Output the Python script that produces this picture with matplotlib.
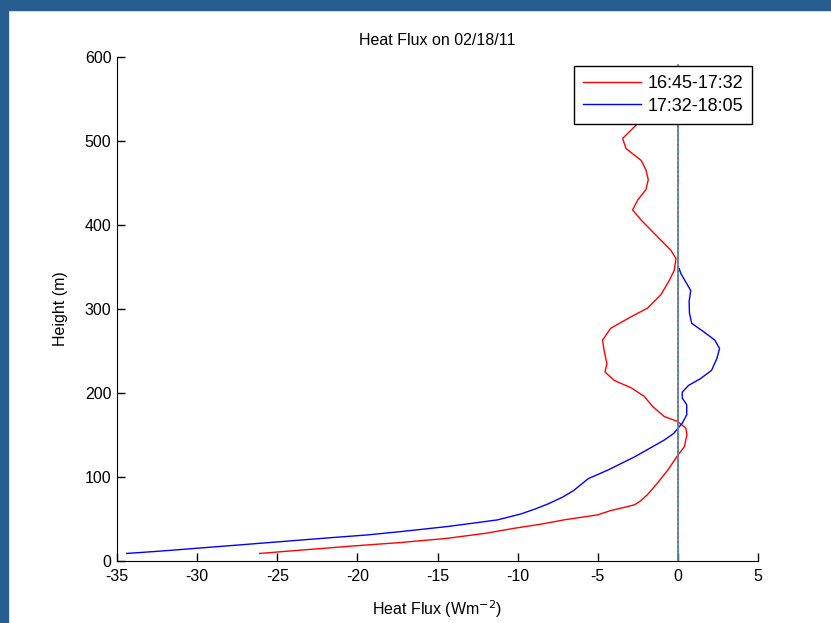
import matplotlib
matplotlib.use("Agg")
import matplotlib.pyplot as plt
from matplotlib.patches import Rectangle

plt.rcParams['font.family'] = ['Liberation Sans', 'DejaVu Sans']
plt.rcParams['axes.unicode_minus'] = False

# 16:45-17:32 profile: heat flux (W m^-2) vs height (m)
flux_early = [-26.1, -23.5, -20.2, -17.3, -14.4, -12.0, -10.2, -8.5, -7.1, -5.0,
              -4.2, -3.1, -2.7, -2.3, -1.9, -1.27, -0.64, 0.0, 0.4, 0.56,
              0.5, 0.0, -0.85, -1.58, -2.1, -2.9, -3.97, -4.55, -4.43, -4.6,
              -4.7, -4.2, -2.9, -1.9, -1.06, -0.54, -0.23, -0.12, -0.44, -1.27,
              -2.3, -2.83, -2.5, -2.0, -1.85, -2.0, -2.3, -3.24, -3.45, -2.5,
              -2.2, -1.9]
height_early = [9, 13, 18, 22, 27, 33, 39, 44, 49, 55,
                60, 65, 67, 72, 79, 93, 108, 126, 136, 150,
                158, 166, 172, 184, 196, 206, 215, 225, 235, 250,
                263, 277, 291, 301, 317, 334, 346, 360, 370, 386,
                406, 418, 430, 442, 454, 466, 477, 491, 503, 521,
                530, 540]

# 17:32-18:05 profile
flux_late = [-34.4, -32.5, -30.8, -28.8, -26.8, -23.5, -21.5, -19.4, -17.3, -14.4,
             -12.8, -11.25, -9.8, -8.9, -8.1, -7.2, -6.5, -5.6, -4.4, -2.7,
             -0.85, -0.26, 0.27, 0.55, 0.55, 0.27, 0.27, 0.66, 1.4, 2.1,
             2.43, 2.6, 2.3, 1.6, 0.86, 0.72, 0.7, 0.8, 0.19, 0.08]
height_late = [9, 11.5, 14, 17, 20, 25, 28, 31, 35, 41,
               45, 49, 56, 62, 68, 76, 84, 98, 108, 124,
               144, 152, 164, 174, 186, 194, 201, 209, 217, 227,
               241, 253, 263, 273, 283, 295, 309, 322, 342, 348]

labels = ['16:45-17:32', '17:32-18:05']

fig = plt.figure(figsize=(8.31, 6.23), dpi=100)
ax = fig.add_axes([0.1408, 0.0995, 0.7714, 0.809])

ax.plot(flux_early, height_early, color='r', lw=1.0, label=labels[0])
ax.plot(flux_late, height_late, color='b', lw=1.0, label=labels[1])

# zero line
ax.plot([0, 0], [0, 590], color='#2aa58a', lw=1.3)
ax.plot([0, 0], [0, 590], color='#c040c0', lw=1.3, ls=(0, (1, 1.5)))

ax.set_xlim(-35, 5)
ax.set_ylim(0, 600)
ax.set_xticks(range(-35, 6, 5))
ax.set_yticks(range(0, 601, 100))
ax.spines['top'].set_visible(False)
ax.spines['right'].set_visible(False)
ax.tick_params(direction='in', length=6, width=1, labelsize=11.5)
ax.tick_params(axis='x', pad=6)
ax.tick_params(axis='y', pad=4)

ax.set_title('Heat Flux on 02/18/11', fontsize=11.5, pad=9)
ax.set_xlabel('Heat Flux (Wm$^{-2}$)', fontsize=11.5, labelpad=10)
ax.set_ylabel('Height (m)', fontsize=11.5, labelpad=12)

leg = ax.legend(loc='upper right', bbox_to_anchor=(0.9906, 0.982), borderaxespad=0,
                fontsize=13, fancybox=False, framealpha=1, edgecolor='black',
                handlelength=3.2, handletextpad=0.35, borderpad=0.5,
                labelspacing=0.3)
leg.get_frame().set_linewidth(1.0)

# window frame strips
frame_color = '#285d91'
fig.patches.append(Rectangle((0, 1 - 10 / 623), 1, 10 / 623, transform=fig.transFigure,
                             color=frame_color, zorder=10))
fig.patches.append(Rectangle((0, 0), 8 / 831, 1, transform=fig.transFigure,
                             color=frame_color, zorder=10))

fig.savefig('out.png', dpi=100)
